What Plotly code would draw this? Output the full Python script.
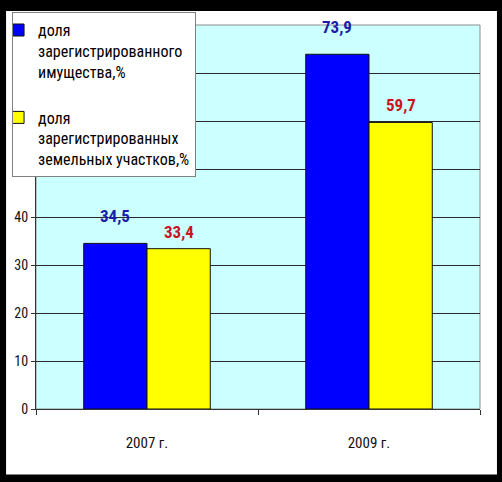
import plotly.graph_objects as go

categories = ["2007 г.", "2009 г."]
series_names = ["доля<br>зарегистрированного<br>имущества,%",
                "доля<br>зарегистрированных<br>земельных участков,%"]
property_share = [34.5, 73.9]
land_share = [33.4, 59.7]
y_ticks = [0, 10, 20, 30, 40, 50, 60, 70, 80]

values = [property_share, land_share]
bar_colors = ["#0000FF", "#FFFF00"]
label_colors = ["#1C1CA8", "#C8161E"]
label_shift = [15, 5]

FONT = "Roboto Condensed, Liberation Sans, Arial, sans-serif"
W, H = 502, 482
ML, MR, MT, MB = 35, 22, 22, 73
BARGAP = 0.43

fig = go.Figure()
for i, (name, vals) in enumerate(zip(series_names, values)):
    fig.add_trace(go.Bar(
        x=categories, y=vals, name=name,
        marker=dict(color=bar_colors[i], line=dict(color="#111111", width=1)),
        legendgroup=f"g{i}",
    ))

# value labels
annotations = []
ns = len(values)
for s, vals in enumerate(values):
    for c, v in enumerate(vals):
        xpos = c + (s - (ns - 1) / 2) * (1 - BARGAP) / ns
        annotations.append(dict(
            x=xpos, y=v, xref="x", yref="y",
            text=f"{v:.1f}".replace(".", ","),
            showarrow=False, yanchor="bottom", yshift=label_shift[s],
            font=dict(family=FONT, size=17, color=label_colors[s], weight="bold"),
        ))

pw = W - ML - MR
ph = H - MT - MB
shapes = [
    # white panel
    dict(type="rect", xref="paper", yref="paper", layer="below",
         x0=(5 - ML) / pw, x1=(497 - ML) / pw,
         y0=(H - MB - 475) / ph, y1=(H - MB - 8) / ph,
         fillcolor="white", line=dict(width=0)),
    # plot area
    dict(type="rect", xref="paper", yref="paper", layer="below",
         x0=0, x1=1, y0=0, y1=1,
         fillcolor="#CCFFFF", line=dict(color="#8C8C8C", width=1)),
]

fig.update_layout(
    width=W, height=H,
    margin=dict(l=ML, r=MR, t=MT, b=MB),
    paper_bgcolor="black",
    plot_bgcolor="#CCFFFF",
    barmode="group", bargap=BARGAP, bargroupgap=0,
    shapes=shapes,
    annotations=annotations,
    font=dict(family=FONT, color="#111111"),
    legend=dict(
        x=(11 - ML) / pw, y=(H - MB - 9) / ph, xanchor="left", yanchor="top",
        bgcolor="white", bordercolor="#808080", borderwidth=1,
        font=dict(family=FONT, size=16, color="black"),
        valign="top", traceorder="grouped", tracegroupgap=22,
        itemwidth=30, indentation=-15,
    ),
)

fig.update_xaxes(
    showline=True, linecolor="#333333", linewidth=1,
    ticks="outside", tickson="boundaries", ticklen=5, tickcolor="#333333",
    tickfont=dict(family=FONT, size=15, color="#111111"),
    ticklabelstandoff=20,
    showgrid=False,
)
fig.update_yaxes(
    range=[0, 80], tickvals=y_ticks,
    showline=True, linecolor="#333333", linewidth=1,
    ticks="outside", ticklen=4, tickcolor="#333333",
    tickfont=dict(family=FONT, size=14, color="#111111"),
    showgrid=True, gridcolor="#2A2A2A", gridwidth=1,
    zeroline=False,
)

fig.write_html("out.html", config={"displayModeBar": False},
               post_script="document.body.style.margin='0';")
